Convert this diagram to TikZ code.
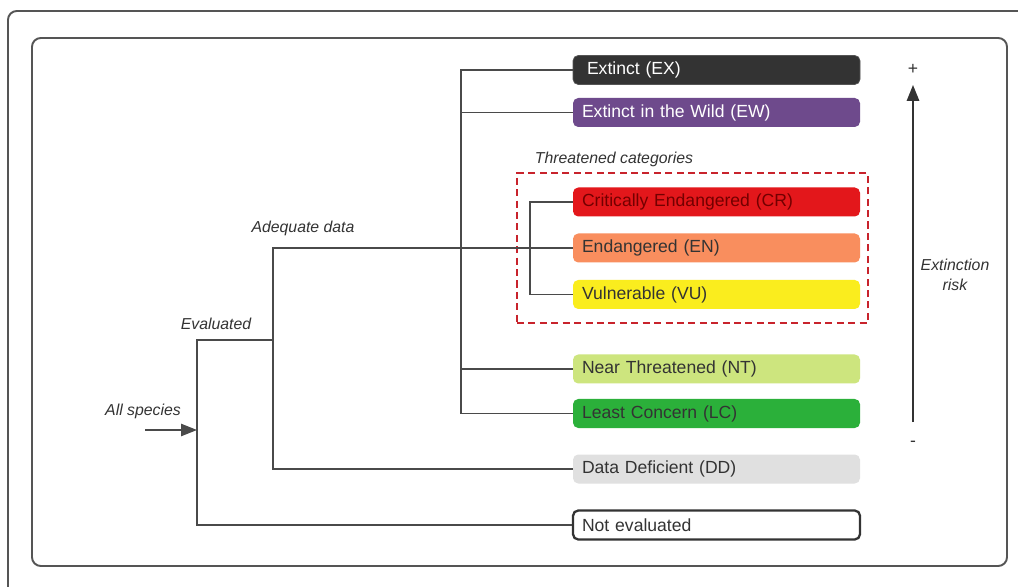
\documentclass[tikz,border=0pt]{standalone}
\usepackage{fontspec}
\setmainfont{Liberation Sans}
\usetikzlibrary{arrows.meta}

\definecolor{framegray}{HTML}{555555}
\definecolor{linegray}{HTML}{4A4A4A}
\definecolor{txtgray}{HTML}{333333}
\definecolor{exfill}{HTML}{333333}
\definecolor{ewfill}{HTML}{6E4A8C}
\definecolor{crfill}{HTML}{E3171B}
\definecolor{enfill}{HTML}{F98E5E}
\definecolor{vufill}{HTML}{FAED1E}
\definecolor{ntfill}{HTML}{CDE57E}
\definecolor{lcfill}{HTML}{2BB03A}
\definecolor{ddfill}{HTML}{E0E0E0}
\definecolor{dashred}{HTML}{C8232C}

\tikzset{
  cat/.style={rectangle,rounded corners=3pt,minimum height=0.58cm,text width=5.38cm,
    inner xsep=0.18cm,align=left,text=txtgray,font=\fontsize{10}{12}\selectfont},
  link/.style={draw=linegray,line width=0.7pt},
  lbl/.style={text=txtgray,font=\fontsize{9}{11}\selectfont\itshape},
}

\begin{document}
\begin{tikzpicture}
\clip (0,0) rectangle (20.36,11.72);
\fill [white] (0,0) rectangle (20.36,11.72);
% frames
\draw [framegray,line width=1.1pt,rounded corners=5pt] (0.16,-1) rectangle (21.5,11.5);
\draw [framegray,line width=1.1pt,rounded corners=5pt] (0.64,0.40) rectangle (20.14,10.96);

% categories
\node (EX) [cat,fill=exfill,draw=framegray,text=white] at (14.33,10.32) {\hspace{0.1cm}Extinct (EX)};
\node (EW) [cat,fill=ewfill,text=white] at (14.33,9.47) {Extinct in the Wild (EW)};
\node (CR) [cat,fill=crfill,text=red!45!black] at (14.33,7.68) {Critically Endangered (CR)};
\node (EN) [cat,fill=enfill] at (14.33,6.76) {Endangered (EN)};
\node (VU) [cat,fill=vufill] at (14.33,5.83) {Vulnerable (VU)};
\node (NT) [cat,fill=ntfill] at (14.33,4.34) {Near Threatened (NT)};
\node (LC) [cat,fill=lcfill] at (14.33,3.45) {Least Concern (LC)};
\node (DD) [cat,fill=ddfill] at (14.33,2.34) {Data Deficient (DD)};
\node (NE) [cat,fill=white,draw=txtgray,line width=1.3pt] at (14.33,1.22) {Not evaluated};

% threatened group
\node (threat) [draw=dashred,dash pattern=on 4pt off 2.5pt,line width=0.8pt,minimum width=7.02cm,minimum height=3.0cm] at (13.85,6.76) {};
\node (threatlbl) [lbl] at (12.28,8.54) {Threatened categories};

% tree
\coordinate (root) at (3.94,4.92);
\coordinate (eval) at (5.46,4.92);
\coordinate (adq) at (9.22,6.76);
\coordinate (thr) at (10.60,6.76);
\coordinate (start) at (2.90,3.12);

\draw [link] (NE.west) -| (root) -- (eval);
\draw [link] (DD.west) -| (eval |- EN.west) -- (EN.west);
\draw [link] (EX.west) -| (adq |- LC.west) -- (LC.west);
\draw [link] (EW.west) -- (EW.west -| adq);
\draw [link] (NT.west) -- (NT.west -| adq);
\draw [link] (CR.west) -| (thr |- VU.west) -- (VU.west);
\draw [link,-{Triangle[length=9pt,width=7pt]}] (start) -- (start -| root);

\node (allsp) [lbl] at (2.86,3.50) {All species};
\node (evallbl) [lbl] at (4.32,5.24) {Evaluated};
\node (adqlbl) [lbl] at (6.06,7.16) {Adequate data};

% extinction risk
\node (plus) [text=txtgray] at (18.26,10.34) {+};
\node (minus) [text=txtgray] at (18.26,2.84) {-};
\draw [draw=txtgray,line width=1pt,-{Triangle[length=9pt,width=7pt]}] (18.26,3.28) -- (18.26,10.02);
\node (risk) [lbl,align=center] at (19.10,6.22) {Extinction\\risk};
\end{tikzpicture}
\end{document}
